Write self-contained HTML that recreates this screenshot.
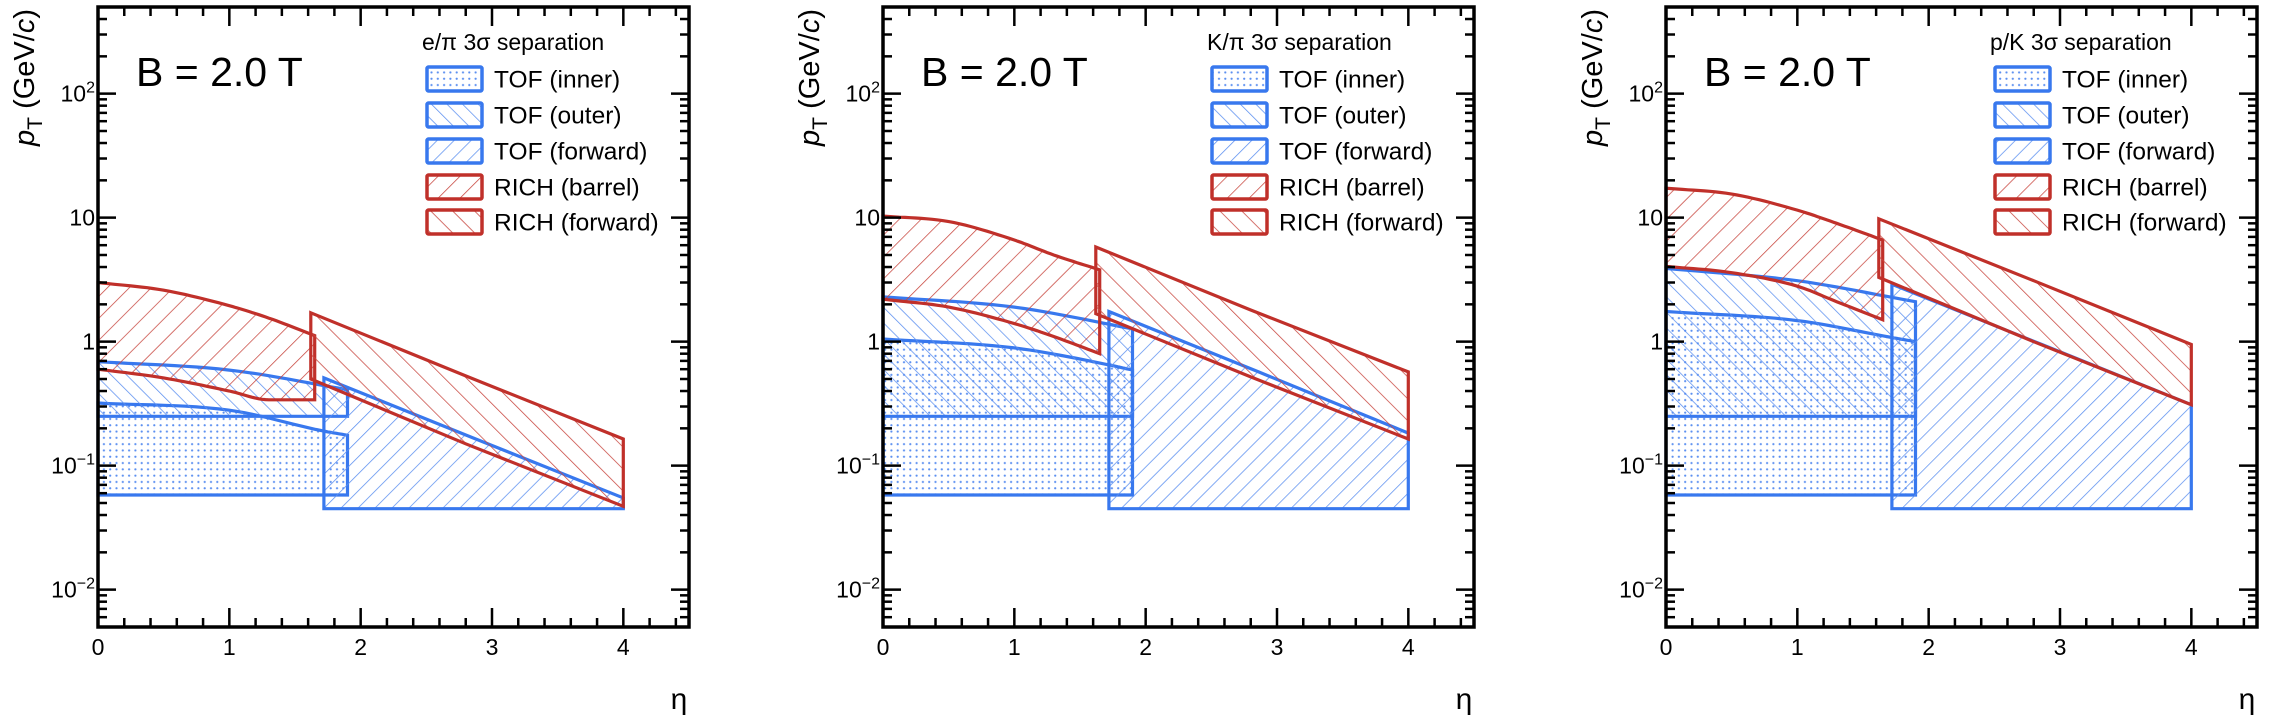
<!DOCTYPE html>
<html><head><meta charset="utf-8"><style>
html,body{margin:0;padding:0;background:#fff;}
svg{display:block;font-family:"Liberation Sans",Arial,sans-serif;}
</style></head><body>
<svg id="fig" width="2282" height="718" viewBox="0 0 2282 718" xmlns="http://www.w3.org/2000/svg">
<defs>
<pattern id="hRedB" patternUnits="userSpaceOnUse" width="15.5" height="15.5" patternTransform="rotate(45)"><line x1="0" y1="0" x2="0" y2="15.5" stroke="#c8453e" stroke-width="1.5"/></pattern>
<pattern id="hRedF" patternUnits="userSpaceOnUse" width="15.5" height="15.5" patternTransform="rotate(-45)"><line x1="0" y1="0" x2="0" y2="15.5" stroke="#c8453e" stroke-width="1.5"/></pattern>
<pattern id="hBlueF" patternUnits="userSpaceOnUse" width="12" height="12" patternTransform="rotate(45)"><line x1="0" y1="0" x2="0" y2="12" stroke="#5b8ff0" stroke-width="1.5"/></pattern>
<pattern id="hBlueO" patternUnits="userSpaceOnUse" width="11" height="11" patternTransform="rotate(-45)"><line x1="0" y1="0" x2="0" y2="11" stroke="#5b8ff0" stroke-width="1.5"/></pattern>
<pattern id="dots" patternUnits="userSpaceOnUse" width="6.3" height="6.3"><circle cx="3.1" cy="3.1" r="1.1" fill="#5b8ff0"/></pattern>
</defs>
</svg>
<script>
// ---- data ----
const panelTitles = ["e/\u03c0 3\u03c3 separation", "K/\u03c0 3\u03c3 separation", "p/K 3\u03c3 separation"];
const legendLabels = ["TOF (inner)", "TOF (outer)", "TOF (forward)", "RICH (barrel)", "RICH (forward)"];
const xTickLabels = ["0","1","2","3","4"];
const yTickValues = [0.01, 0.1, 1, 10, 100];

const richBarrelX = [0, 0.5, 1, 1.3, 1.65];
const richBarrelUp1 = [3.0, 2.6, 1.95, 1.55, 1.12];
const richBarrelLo1 = [0.6, 0.51, 0.40, 0.34, 0.34];
const richBarrelUp2 = [10.3, 9.3, 6.6, 5.0, 3.8];
const richBarrelLo2 = [2.2, 1.9, 1.4, 1.1, 0.8];
const richBarrelUp3 = [17.3, 15.5, 11.5, 9.0, 6.6];
const richBarrelLo3 = [4.05, 3.6, 2.8, 2.1, 1.5];

const richFwdX = [1.62, 2.8, 4];
const richFwdUp1 = [1.71, 0.53, 0.164];
const richFwdLo1 = [0.5, 0.15, 0.047];
const richFwdUp2 = [5.8, 1.8, 0.57];
const richFwdLo2 = [1.68, 0.52, 0.164];
const richFwdUp3 = [9.8, 3.1, 0.95];
const richFwdLo3 = [3.3, 1.0, 0.31];

const tofInnerX = [0, 1, 1.72, 1.9];
const tofInnerUp1 = [0.32, 0.28, 0.19, 0.176];
const tofInnerUp2 = [1.05, 0.89, 0.65, 0.59];
const tofInnerUp3 = [1.75, 1.48, 1.08, 1.0];
const tofInnerLo = 0.058;

const tofOuterX = [0, 1, 1.9];
const tofOuterUp1 = [0.69, 0.59, 0.41];
const tofOuterUp2 = [2.3, 1.9, 1.27];
const tofOuterUp3 = [3.9, 3.1, 2.1];
const tofOuterLo = 0.25;

const tofFwdX = [1.72, 2.86, 4];
const tofFwdUp1 = [0.51, 0.167, 0.055];
const tofFwdUp2 = [1.75, 0.57, 0.183];
const tofFwdUp3 = [2.9, 0.95, 0.31];
const tofFwdLo = 0.045;

const panelData = [
 {rbU:richBarrelUp1, rbL:richBarrelLo1, rfU:richFwdUp1, rfL:richFwdLo1, ti:tofInnerUp1, to:tofOuterUp1, tf:tofFwdUp1},
 {rbU:richBarrelUp2, rbL:richBarrelLo2, rfU:richFwdUp2, rfL:richFwdLo2, ti:tofInnerUp2, to:tofOuterUp2, tf:tofFwdUp2},
 {rbU:richBarrelUp3, rbL:richBarrelLo3, rfU:richFwdUp3, rfL:richFwdLo3, ti:tofInnerUp3, to:tofOuterUp3, tf:tofFwdUp3}
];

// ---- layout ----
const NS = "http://www.w3.org/2000/svg";
const svg = document.getElementById('fig');
const frameLefts = [98, 883, 1666];
const FW = 591, FT = 7, FB = 627;
const XMIN = 0, XMAX = 4.5, LYMIN = Math.log10(0.005), LYMAX = Math.log10(500);
const RED = "#c0302a", BLUE = "#3878ee";

function mk(tag, attrs, parent){ const e=document.createElementNS(NS,tag); for(const k in attrs) e.setAttribute(k,attrs[k]); (parent||svg).appendChild(e); return e; }

// monotone cubic (Fritsch-Carlson) in log space
function smoothPts(x, y, xs, ys, linear){
  const n=x.length, ly=y.map(v=>Math.log10(v));
  if (linear) return x.map((X,i)=>[xs(X),ys(y[i])]);
  const dx=[], dl=[];
  for(let i=0;i<n-1;i++){ dx.push(x[i+1]-x[i]); dl.push((ly[i+1]-ly[i])/dx[i]); }
  const m=[dl[0]];
  for(let i=1;i<n-1;i++) m.push(dl[i-1]*dl[i]<=0?0:(dl[i-1]+dl[i])/2);
  m.push(dl[n-2]);
  for(let i=0;i<n-1;i++){
    if(dl[i]===0){m[i]=0;m[i+1]=0;continue;}
    const a=m[i]/dl[i], b=m[i+1]/dl[i], s=a*a+b*b;
    if(s>9){const t=3/Math.sqrt(s); m[i]=t*a*dl[i]; m[i+1]=t*b*dl[i];}
  }
  const out=[];
  for(let i=0;i<n-1;i++){
    for(let s=0;s<12;s++){
      const t=s/12, h=dx[i];
      const h00=2*t*t*t-3*t*t+1, h10=t*t*t-2*t*t+t, h01=-2*t*t*t+3*t*t, h11=t*t*t-t*t;
      const L=h00*ly[i]+h10*h*m[i]+h01*ly[i+1]+h11*h*m[i+1];
      out.push([xs(x[i]+h*t),ys(Math.pow(10,L))]);
    }
  }
  out.push([xs(x[n-1]),ys(y[n-1])]);
  return out;
}

frameLefts.forEach((L, pi) => {
  const xs = v => L + (v - XMIN) / (XMAX - XMIN) * FW;
  const ys = v => FB - (Math.log10(v) - LYMIN) / (LYMAX - LYMIN) * (FB - FT);
  const g = mk('g', {});
  
  
  const d = panelData[pi];

  function band(x, up, lo, fill, stroke, name, linear){
    let pts = smoothPts(x, up, xs, ys, linear);
    const loArr = Array.isArray(lo) ? lo : x.map(()=>lo);
    pts = pts.concat(smoothPts(x, loArr, xs, ys, linear).reverse());
    const p = mk('polygon', {points: pts.map(q=>q[0].toFixed(1)+','+q[1].toFixed(1)).join(' '), fill: 'url(#'+fill+')', stroke: stroke, 'stroke-width': 3.2, 'stroke-linejoin':'miter'}, g);
    
    
  }
  band(tofInnerX, d.ti, tofInnerLo, 'dots', BLUE, 'tof-inner-region', false);
  band(tofOuterX, d.to, tofOuterLo, 'hBlueO', BLUE, 'tof-outer-region', false);
  band(tofFwdX, d.tf, tofFwdLo, 'hBlueF', BLUE, 'tof-forward-region', true);
  band(richBarrelX, d.rbU, d.rbL, 'hRedB', RED, 'rich-barrel-region', false);
  band(richFwdX, d.rfU, d.rfL, 'hRedF', RED, 'rich-forward-region', true);

  const fr = mk('rect', {x:L, y:FT, width:FW, height:FB-FT, fill:'none', stroke:'#000', 'stroke-width':3.5}, g);
  
  
  for (let k=0;k<=22;k++){
    const v = k*0.2; if (v>XMAX+1e-9) break;
    const major = (k%5===0), len = major?19:9, X = xs(v);
    mk('line',{x1:X,y1:FB,x2:X,y2:FB-len,stroke:'#000','stroke-width':2.5},g);
    mk('line',{x1:X,y1:FT,x2:X,y2:FT+len,stroke:'#000','stroke-width':2.5},g);
  }
  xTickLabels.forEach((t,i)=>{
    const tx = mk('text',{x:xs(i),y:655,'font-size':23,'text-anchor':'middle'},g);
    tx.textContent=t;
    
    
  });
  for (let e=-3;e<=2;e++){
    for (let m=1;m<=9;m++){
      const v = m*Math.pow(10,e);
      if (v<0.005||v>500) continue;
      const len = m===1?18:9, Y = ys(v);
      mk('line',{x1:L,y1:Y,x2:L+len,y2:Y,stroke:'#000','stroke-width':2.5},g);
      mk('line',{x1:L+FW,y1:Y,x2:L+FW-len,y2:Y,stroke:'#000','stroke-width':2.5},g);
    }
  }
  yTickValues.forEach(v=>{
    const Y = ys(v)+8;
    const e = Math.round(Math.log10(v));
    const tx = mk('text',{x:L-3,y:Y,'font-size':23,'text-anchor':'end'},g);
    
    
    if (e===0) tx.textContent='1';
    else if (e===1) tx.textContent='10';
    else { tx.textContent='10'; const s=mk('tspan',{dy:-9,'font-size':16},tx); s.textContent=(e<0?'\u2212':'')+Math.abs(e); }
  });
  const yt = mk('text',{x:0,y:0,'font-size':29,'text-anchor':'end',transform:'translate('+(L-64)+',9) rotate(-90)'},g);
  
  
  const pp = mk('tspan',{'font-style':'italic'},yt); pp.textContent='p';
  const ts = mk('tspan',{'font-size':21,dy:8},yt); ts.textContent='T';
  const rest = mk('tspan',{dy:-8},yt); rest.textContent=' (GeV/';
  const cc = mk('tspan',{'font-style':'italic'},yt); cc.textContent='c';
  const cl = mk('tspan',{},yt); cl.textContent=')';
  const xt = mk('text',{x:L+FW-10,y:709,'font-size':30,'text-anchor':'middle'},g);
  xt.textContent='\u03b7';
  
  
  const bl = mk('text',{x:L+38,y:86,'font-size':41},g);
  bl.textContent='B = 2.0 T';
  
  
  const lg = mk('g',{},g);
  
  
  const hd = mk('text',{x:L+324,y:50,'font-size':23},lg);
  hd.textContent = panelTitles[pi];
  
  
  const fills=['dots','hBlueO','hBlueF','hRedB','hRedF'], strokes=[BLUE,BLUE,BLUE,RED,RED];
  const cy=[79,115,151,187,222];
  legendLabels.forEach((lab,i)=>{
    const r = mk('rect',{x:L+329,y:cy[i]-12,width:55,height:24,fill:'url(#'+fills[i]+')',stroke:strokes[i],'stroke-width':3.5,rx:1.5},lg);
    
    
    const t = mk('text',{x:L+396,y:cy[i]+8.5,'font-size':24.5},lg);
    t.textContent=lab;
    
    
  });
});
</script>
</body></html>
